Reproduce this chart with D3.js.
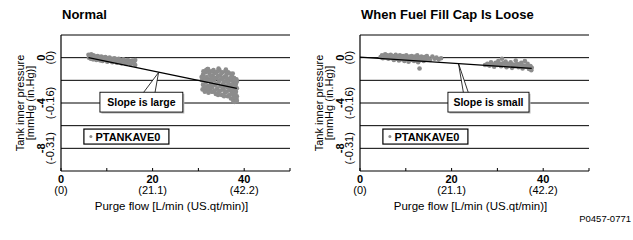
<!DOCTYPE html>
<html>
<head>
<meta charset="utf-8">
<script src="https://cdn.jsdelivr.net/npm/d3@7"></script>
<style>
  body { margin: 0; background: #fff; }
  svg { display: block; font-family: "Liberation Sans", Arial, sans-serif; }
</style>
</head>
<body>
<script>
"use strict";

// chart titles and labels
const panelTitles = ["Normal", "When Fuel Fill Cap Is Loose"]
const calloutTexts = ["Slope is large", "Slope is small"]
const legendLabel = "PTANKAVE0"
const figureId = "P0457-0771"

// axis ticks: [value, first line, second line]
const xTickLabels = [[0, "0", "(0)"], [20, "20", "(21.1)"], [40, "40", "(42.2)"]]
const yTickLabels = [[0, "0", "(0)"], [-4, "-4", "(-0.16)"], [-8, "-8", "(-0.31)"]]
const gridValues = [2, 0, -2, -4, -6, -8]
const xMinorTicks = [0, 10, 20, 30, 40, 50]

// Normal: purge flow (L/min), tank pressure (mmHg)
const normalLowFlow = [
  [6.0, 0.25], [6.1, 0.0], [6.3, 0.15], [6.5, -0.1], [6.6, 0.3], [6.8, 0.05], [7.0, -0.15], [7.1, 0.2],
  [7.3, 0.0], [7.5, 0.1], [7.7, -0.2], [7.9, 0.05], [8.0, 0.15], [8.2, -0.1], [8.4, 0.0], [8.6, -0.25],
  [8.8, 0.1], [9.0, -0.05], [9.1, -0.3], [9.3, 0.0], [9.5, -0.15], [9.7, 0.05], [9.9, -0.2], [10.1, -0.35],
  [10.2, -0.05], [10.4, -0.2], [10.6, 0.0], [10.8, -0.3], [11.0, -0.1], [11.2, -0.4], [11.4, -0.2], [11.6, -0.05],
  [11.8, -0.3], [12.0, -0.15], [12.2, -0.45], [12.4, -0.25], [12.6, -0.1], [12.8, -0.35], [13.0, -0.2], [13.2, -0.5],
  [13.4, -0.3], [13.6, -0.15], [13.8, -0.4], [14.0, -0.25], [14.2, -0.55], [14.4, -0.35], [14.6, -0.2], [14.8, -0.45],
  [15.0, -0.3], [15.2, -0.6], [15.4, -0.4], [15.6, -0.25], [15.8, -0.5], [16.0, -0.35], [16.2, -0.65], [16.2, -0.2],
  [6.2, 0.1], [6.9, -0.05], [7.2, 0.1], [7.6, -0.05], [8.1, -0.15], [8.5, 0.05], [8.9, -0.15], [9.4, -0.1],
  [9.8, -0.05], [10.3, -0.15], [10.7, -0.1], [11.1, -0.25], [11.5, -0.3], [11.9, -0.1], [12.3, -0.35], [12.7, -0.2],
  [13.1, -0.3], [13.5, -0.45], [13.9, -0.3], [14.3, -0.4], [14.7, -0.3], [15.1, -0.45], [15.5, -0.35], [15.9, -0.3]
]
const normalHighFlow = [
  [30.8, -2.0], [31.0, -1.5], [31.0, -2.4], [31.2, -1.8], [31.3, -2.7], [31.5, -1.3], [31.6, -2.2], [31.8, -1.7],
  [31.9, -2.9], [32.0, -1.0], [32.1, -2.5], [32.3, -1.9], [32.4, -1.4], [32.5, -2.8], [32.7, -2.2], [32.8, -1.2],
  [33.0, -2.6], [33.1, -1.6], [33.2, -3.0], [33.4, -2.0], [33.5, -1.4], [33.7, -2.4], [33.8, -3.2], [34.0, -1.8],
  [34.1, -2.7], [34.2, -1.2], [34.4, -2.2], [34.5, -3.0], [34.7, -1.6], [34.8, -2.5], [35.0, -1.9], [35.1, -3.3],
  [35.2, -1.3], [35.4, -2.3], [35.5, -2.8], [35.7, -1.7], [35.8, -3.1], [36.0, -2.1], [36.1, -1.5], [36.3, -2.6],
  [36.4, -3.4], [36.6, -1.9], [36.7, -2.4], [36.9, -1.4], [37.0, -2.9], [37.1, -3.6], [37.2, -2.0], [37.3, -1.6],
  [37.4, -2.6], [37.5, -3.2], [37.6, -3.8], [37.7, -2.2], [37.8, -1.8], [37.9, -2.9], [38.0, -3.5], [38.1, -2.5],
  [38.2, -3.0], [38.3, -1.9], [38.4, -2.7], [38.4, -3.4],
  [30.7, -1.7], [30.9, -2.8], [31.1, -1.2], [31.4, -2.0], [31.4, -3.0], [31.7, -1.1], [31.7, -2.6], [32.0, -2.0],
  [32.2, -1.2], [32.2, -3.1], [32.6, -1.6], [32.6, -2.5], [32.9, -1.9], [32.9, -3.0], [33.3, -1.1], [33.3, -2.4],
  [33.6, -1.8], [33.6, -2.9], [33.9, -1.3], [33.9, -2.3], [34.3, -1.6], [34.3, -3.3], [34.6, -2.0], [34.6, -1.1],
  [34.9, -2.9], [35.0, -1.4], [35.3, -2.6], [35.3, -1.8], [35.6, -2.1], [35.6, -3.4], [35.9, -1.2], [35.9, -2.5],
  [36.2, -1.8], [36.2, -3.0], [36.5, -2.2], [36.5, -1.3], [36.8, -2.8], [36.8, -3.3], [37.0, -1.8], [37.2, -2.4],
  [37.3, -3.0], [37.5, -1.4], [37.6, -2.8], [37.7, -3.5], [37.8, -2.5], [37.9, -3.9], [38.0, -2.0], [38.1, -3.2],
  [38.2, -2.3], [38.3, -3.6], [38.4, -2.1], [38.4, -3.8], [32.1, -1.0], [34.4, -0.95], [36.0, -1.05]
]
const normalFit = [[6.0, 0.0], [38.4, -2.7]]

// Loose cap
const looseLowFlow = [
  [4.5, 0.05], [4.8, 0.2], [5.0, -0.05], [5.3, 0.15], [5.5, 0.3], [5.7, 0.0], [6.0, 0.2], [6.2, -0.1],
  [6.4, 0.1], [6.7, 0.25], [6.9, -0.05], [7.1, 0.15], [7.4, -0.2], [7.6, 0.05], [7.8, 0.25], [8.0, -0.1],
  [8.3, 0.1], [8.5, -0.25], [8.7, 0.2], [9.0, 0.0], [9.2, -0.15], [9.4, 0.15], [9.7, -0.3], [9.9, 0.05],
  [10.1, 0.2], [10.4, -0.1], [10.6, -0.35], [10.8, 0.1], [11.1, -0.2], [11.3, 0.15], [11.5, -0.05], [11.8, -0.3],
  [12.0, 0.1], [12.2, -0.15], [12.5, 0.2], [12.7, -0.4], [12.9, 0.0], [13.0, -0.95], [13.2, -0.2], [13.4, 0.1],
  [13.7, -0.1], [13.9, -0.3], [14.1, 0.05], [14.4, -0.15], [14.6, 0.15], [14.9, -0.05], [15.3, -0.2], [15.8, 0.1],
  [16.3, -0.1], [16.7, 0.0], [17.2, -0.15], [17.7, -0.05],
  [5.1, 0.1], [5.6, 0.15], [6.1, 0.05], [6.6, 0.0], [7.0, 0.05], [7.5, 0.1], [8.1, 0.05], [8.6, 0.0],
  [9.1, 0.1], [9.6, -0.05], [10.0, -0.1], [10.5, 0.05], [11.0, 0.0], [11.6, -0.15], [12.1, -0.05], [12.6, -0.1],
  [13.1, 0.0], [13.6, -0.2], [14.0, -0.1], [14.5, -0.05], [15.0, -0.1]
]
const looseHighFlow = [
  [27.3, -0.65], [27.8, -0.55], [28.3, -0.7], [28.6, -0.4], [29.0, -0.6], [29.3, -0.8], [29.6, -0.45], [30.0, -0.65],
  [30.2, -0.3], [30.5, -0.55], [30.8, -0.75], [31.0, -0.1], [31.2, -0.5], [31.5, -0.65], [31.8, -0.35], [32.0, -0.85],
  [32.3, -0.55], [32.6, -0.7], [32.9, -0.4], [33.2, -0.9], [33.5, -0.6], [33.8, -0.75], [34.0, -0.25], [34.3, -0.55],
  [34.6, -0.85], [34.9, -0.65], [35.2, -0.45], [35.5, -0.95], [35.8, -0.7], [36.0, -0.3], [36.3, -0.8], [36.6, -0.55],
  [36.9, -1.0], [37.2, -0.75], [37.5, -0.9], [37.4, -1.1],
  [28.0, -0.65], [29.8, -0.55], [30.6, -0.65], [31.4, -0.55], [32.1, -0.6], [32.8, -0.6], [33.4, -0.7], [34.1, -0.6],
  [34.8, -0.7], [35.4, -0.7], [36.1, -0.75], [36.8, -0.8], [37.3, -0.85]
]
const looseFit = [[0.0, 0.05], [37.5, -0.95]]

// callouts in data units: apex on the fit line, wedge base x's, box x range
const calloutApex = [[21.3, -1.31], [21.5, -0.51]]
const calloutBase = [[17.9, 20.5], [22.6, 23.7]]
const calloutBoxX = [[8.5, 26.6], [19.2, 36.9]]

;(function(){
    let svgContainer = ""
    const measurements = {
        width: 633,
        height: 240,
        plotWidth: 229,
        top: 35,
        bottom: 171,
        lefts: [61, 360]
    }
    const gray = "#8c8c8c"

    window.onload = function() {
        svgContainer = d3.select("body").append("svg")
            .attr("width", measurements.width)
            .attr("height", measurements.height)

        const panels = [
            { pts: normalLowFlow.concat(normalHighFlow), fit: normalFit },
            { pts: looseLowFlow.concat(looseHighFlow), fit: looseFit }
        ]
        panels.forEach((p, i) => makePanel(p, i))

        svgContainer.append("text")
            .attr("x", 631).attr("y", 222)
            .attr("text-anchor", "end")
            .style("font-size", "9.5px")
            .text(figureId)
    }

    function makePanel(panel, i) {
        const left = measurements.lefts[i]
        const scaleX = d3.scaleLinear().domain([0, 50]).range([left, left + measurements.plotWidth])
        const scaleY = d3.scaleLinear().domain([2, -10]).range([measurements.top, measurements.bottom])
        const g = svgContainer.append("g")

        // title
        g.append("text")
            .attr("x", left + 1).attr("y", 19)
            .style("font-size", "13px").style("font-weight", "bold")
            .text(panelTitles[i])

        // gridlines
        g.selectAll(".grid").data(gridValues).enter().append("line")
            .attr("x1", scaleX(0)).attr("x2", scaleX(50))
            .attr("y1", d => scaleY(d)).attr("y2", d => scaleY(d))
            .attr("stroke", "#000").attr("stroke-width", 1)

        // axes
        g.append("line")
            .attr("x1", scaleX(0)).attr("x2", scaleX(0))
            .attr("y1", scaleY(2)).attr("y2", scaleY(-10))
            .attr("stroke", "#000").attr("stroke-width", 1.2)
        g.append("line")
            .attr("x1", scaleX(0)).attr("x2", scaleX(50))
            .attr("y1", scaleY(-10)).attr("y2", scaleY(-10))
            .attr("stroke", "#000").attr("stroke-width", 1.2)
        g.selectAll(".xtick").data(xMinorTicks).enter().append("line")
            .attr("x1", d => scaleX(d)).attr("x2", d => scaleX(d))
            .attr("y1", scaleY(-10)).attr("y2", scaleY(-10) - 3)
            .attr("stroke", "#000")

        // x tick labels
        const xl = g.selectAll(".xlab").data(xTickLabels).enter()
        xl.append("text")
            .attr("x", d => scaleX(d[0])).attr("y", 182.5)
            .attr("text-anchor", "middle")
            .style("font-size", "11px").style("font-weight", "bold")
            .text(d => d[1])
        xl.append("text")
            .attr("x", d => scaleX(d[0])).attr("y", 193.5)
            .attr("text-anchor", "middle")
            .style("font-size", "11px")
            .text(d => d[2])
        g.append("text")
            .attr("x", scaleX(25) - 4).attr("y", 209.5)
            .attr("text-anchor", "middle")
            .style("font-size", "11.5px")
            .text("Purge flow [L/min (US.qt/min)]")

        // y tick labels, rotated
        const yl = g.selectAll(".ylab").data(yTickLabels).enter()
        yl.append("text")
            .attr("transform", d => "translate(" + (left - 16) + "," + scaleY(d[0]) + ")rotate(-90)")
            .attr("text-anchor", "middle")
            .style("font-size", "11px").style("font-weight", "bold")
            .text(d => d[1])
        yl.append("text")
            .attr("transform", d => "translate(" + (left - 7) + "," + scaleY(d[0]) + ")rotate(-90)")
            .attr("text-anchor", "middle")
            .style("font-size", "11px")
            .text(d => d[2])
        g.append("text")
            .attr("transform", "translate(" + (left - 37) + "," + scaleY(-4) + ")rotate(-90)")
            .attr("text-anchor", "middle")
            .style("font-size", "11px")
            .text("Tank inner pressure")
        g.append("text")
            .attr("transform", "translate(" + (left - 27.5) + "," + scaleY(-4) + ")rotate(-90)")
            .attr("text-anchor", "middle")
            .style("font-size", "11px")
            .text("[mmHg (in.Hg)]")

        // data points
        g.selectAll(".pt").data(panel.pts).enter().append("circle")
            .attr("cx", d => scaleX(d[0]))
            .attr("cy", d => scaleY(d[1]))
            .attr("r", 2.3)
            .attr("fill", gray)

        // fit line
        g.append("path")
            .datum(panel.fit)
            .attr("d", d3.line().x(d => scaleX(d[0])).y(d => scaleY(d[1])))
            .attr("stroke", "#000").attr("stroke-width", 1.3).attr("fill", "none")

        // callout
        const boxTop = scaleY(-3.05), boxBottom = scaleY(-4.8)
        const apex = calloutApex[i], base = calloutBase[i], bx = calloutBoxX[i]
        g.append("path")
            .attr("d", "M" + scaleX(base[0]) + "," + (boxTop + 1) +
                "L" + scaleX(apex[0]) + "," + scaleY(apex[1]) +
                "L" + scaleX(base[1]) + "," + (boxTop + 1))
            .attr("fill", "#fff").attr("stroke", "#000").attr("stroke-width", 0.8)
        g.append("rect")
            .attr("x", scaleX(bx[0]) + 1.5).attr("y", boxTop + 1.5)
            .attr("width", scaleX(bx[1]) - scaleX(bx[0])).attr("height", boxBottom - boxTop)
            .attr("fill", "#bbb")
        g.append("rect")
            .attr("x", scaleX(bx[0])).attr("y", boxTop)
            .attr("width", scaleX(bx[1]) - scaleX(bx[0])).attr("height", boxBottom - boxTop)
            .attr("fill", "#fff").attr("stroke", "#000").attr("stroke-width", 0.9)
        g.append("text")
            .attr("x", (scaleX(bx[0]) + scaleX(bx[1])) / 2).attr("y", boxBottom - 6)
            .attr("text-anchor", "middle")
            .style("font-size", "10.5px").style("font-weight", "bold")
            .text(calloutTexts[i])

        // legend
        const lx = scaleX(5), ly = scaleY(-6.3)
        g.append("rect")
            .attr("x", lx).attr("y", ly).attr("width", 85).attr("height", 15)
            .attr("fill", "#fff").attr("stroke", "#000").attr("stroke-width", 1.2)
        g.append("circle")
            .attr("cx", lx + 7).attr("cy", ly + 7.5).attr("r", 1.5).attr("fill", gray)
        g.append("text")
            .attr("x", lx + 11.5).attr("y", ly + 11.5)
            .style("font-size", "11px").style("font-weight", "bold")
            .text(legendLabel)
    }
})()
</script>
</body>
</html>
